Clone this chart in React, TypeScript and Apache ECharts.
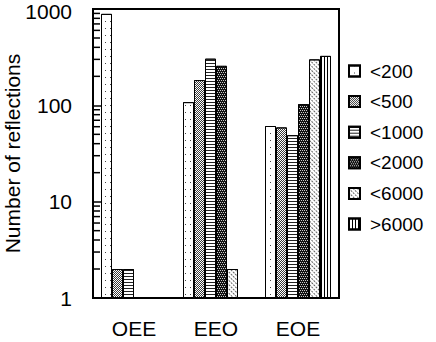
import React, { useEffect, useRef } from "react";
import * as echarts from "echarts";

const CATEGORIES = ["OEE", "EEO", "EOE"];
const SERIES_NAMES = ["<200", "<500", "<1000", "<2000", "<6000", ">6000"];
const V_LT200 = [890, 108, 61];
const V_LT500 = [2, 183, 59];
const V_LT1000 = [2, 305, 49];
const V_LT2000 = [null, 257, 103];
const V_LT6000 = [null, 2, 300];
const V_GT6000 = [null, null, 326];
const MINOR_TICKS = [2, 3, 4, 5, 6, 7, 8, 9, 20, 30, 40, 50, 60, 70, 80, 90, 200, 300, 400, 500, 600, 700, 800, 900];

const FONT = "'Liberation Sans', Arial, Helvetica, sans-serif";

const STYLES: any[] = [
  { color: "#fff", decal: { symbol: "rect", symbolSize: 1, dashArrayX: [1, 4], dashArrayY: [1, 6], color: "#444" } },
  { color: "#fff", decal: { symbol: "rect", symbolSize: 1, dashArrayX: [[1, 1], [0, 1, 1, 0]], dashArrayY: [1, 0], color: "#3a3a3a" } },
  { color: "#fff", decal: { symbol: "rect", symbolSize: 1, dashArrayX: [1, 0], dashArrayY: [1, 2], color: "#222" } },
  { color: "#111", decal: { symbol: "rect", symbolSize: 1, dashArrayX: [[1, 1], [0, 1, 1, 0]], dashArrayY: [1, 1], color: "#ccc" } },
  { color: "#fff", decal: { symbol: "rect", symbolSize: 1, dashArrayX: [2, 1], dashArrayY: [1, 2], rotation: Math.PI / 4, color: "#666" } },
  { color: "#fff", decal: { symbol: "rect", symbolSize: 1, dashArrayX: [1, 2], dashArrayY: [1, 0], color: "#000" } },
];

export default function App() {
  const ref = useRef<HTMLDivElement>(null);
  useEffect(() => {
    if (!ref.current) return;
    const chart = echarts.init(ref.current, null, { renderer: "svg" });
    const values = [V_LT200, V_LT500, V_LT1000, V_LT2000, V_LT6000, V_GT6000];
    const barSeries = SERIES_NAMES.map((name, i) => ({
      name,
      type: "bar",
      data: values[i],
      barWidth: 11,
      barGap: "0%",
      itemStyle: { ...STYLES[i], borderColor: "#000", borderWidth: 1 },
      emphasis: { disabled: true },
    }));
    chart.setOption({
      animation: false,
      backgroundColor: "#fff",
      textStyle: { fontFamily: FONT },
      grid: {
        left: 93,
        top: 9,
        width: 246,
        height: 289,
        outerBoundsMode: "none",
        containLabel: false,
        show: true,
        borderColor: "#000",
        borderWidth: 2,
        backgroundColor: "transparent",
      },
      legend: {
        orient: "vertical",
        left: 348,
        top: 61.5,
        padding: 0,
        itemWidth: 11,
        itemHeight: 11,
        itemGap: 11.6,
        icon: "rect",
        data: SERIES_NAMES,
        textStyle: { fontSize: 19, lineHeight: 19, color: "#000", fontFamily: FONT, padding: [0, 0, 0, 5] },
      },
      xAxis: {
        type: "category",
        data: CATEGORIES,
        axisLine: { lineStyle: { color: "#000", width: 2 } },
        axisTick: { inside: true, length: 8, lineStyle: { color: "#000", width: 2 } },
        axisLabel: { fontSize: 21, color: "#000", margin: 20, fontFamily: FONT },
        splitLine: { show: false },
      },
      yAxis: {
        type: "log",
        logBase: 10,
        min: 1,
        max: 1000,
        interval: 1,
        name: "Number of reflections",
        nameLocation: "middle",
        nameGap: 70,
        nameMoveOverlap: false,
        nameTextStyle: { fontSize: 21, color: "#000", fontFamily: FONT },
        axisLine: { show: true, lineStyle: { color: "#000", width: 2 } },
        axisTick: { show: true, inside: true, length: 9, lineStyle: { color: "#000", width: 1.5 } },
        axisLabel: {
          fontSize: 21,
          color: "#000",
          margin: 21,
          fontFamily: FONT,
          formatter: (v: number) => (v >= 1000 ? "{top|" + v + "}" : String(v)),
          rich: { top: { fontSize: 21, fontFamily: FONT, color: "#000", padding: [5, 0, 0, 0] } },
        },
        splitLine: { show: false },
      },
      series: [
        ...barSeries,
        {
          type: "custom",
          silent: true,
          z: 10,
          data: MINOR_TICKS.map((v) => [0, v]),
          renderItem: (params: any, api: any) => {
            const y = api.coord([0, api.value(1)])[1];
            const x0 = params.coordSys.x;
            return {
              type: "line",
              shape: { x1: x0, y1: y, x2: x0 + 7, y2: y },
              style: { stroke: "#000", lineWidth: 1.5 },
            };
          },
        },
      ],
    });
    return () => chart.dispose();
  }, []);
  return <div ref={ref} style={{ position: "absolute", left: 0, top: 0, width: 436, height: 342 }} />;
}
